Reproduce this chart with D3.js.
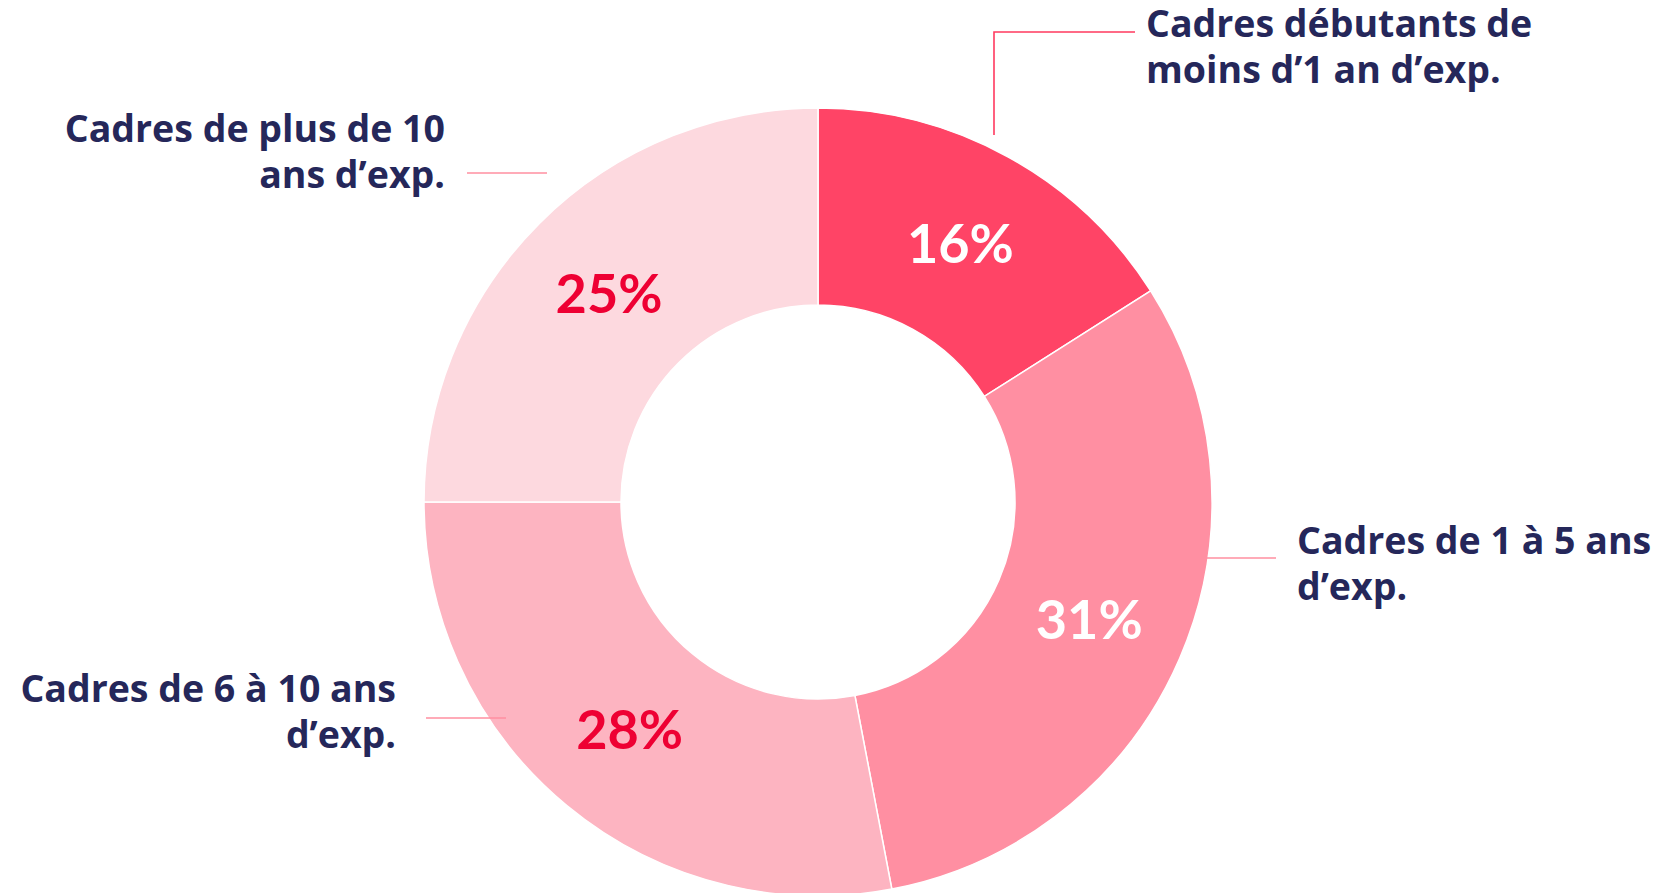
<!DOCTYPE html>
<html>
<head>
<meta charset="utf-8">
<script src="https://cdn.jsdelivr.net/npm/d3@7/dist/d3.min.js"></script>
<style>
  html, body { margin: 0; padding: 0; background: #ffffff; }
  svg { display: block; }
</style>
</head>
<body>
<svg id="chart" width="1677" height="893"></svg>
<script>
// ---- data ----
const categories = [
  ["Cadres débutants de", "moins d\u20191 an d\u2019exp."],
  ["Cadres de 1 à 5 ans", "d\u2019exp."],
  ["Cadres de 6 à 10 ans", "d\u2019exp."],
  ["Cadres de plus de 10", "ans d\u2019exp."]
];
const values = [16, 31, 28, 25];
const valueLabels = ["16%", "31%", "28%", "25%"];

// ---- styles / layout ----
const sliceColors = ["#FF4466", "#FF8FA2", "#FDB4C1", "#FDD9DF"];
const valueColors = ["#FFFFFF", "#FFFFFF", "#EE0033", "#EE0033"];
const leaderColors = ["#FF3A5F", "#FF8FA0", "#FF8FA0", "#FF8FA0"];
const navy = "#25275A";

const cx = 818, cy = 502, rOuter = 394, rInner = 197;

const svg = d3.select("#chart");
const g = svg.append("g").attr("transform", `translate(${cx},${cy})`);

const pie = d3.pie().sort(null).value(d => d);
const arcs = pie(values);
const arc = d3.arc().innerRadius(rInner).outerRadius(rOuter);

g.selectAll("path.slice")
  .data(arcs)
  .join("path")
  .attr("class", "slice")
  .attr("d", arc)
  .attr("fill", (d, i) => sliceColors[i])
  .attr("stroke", "#ffffff")
  .attr("stroke-width", 1.5);

g.selectAll("text.value")
  .data(arcs)
  .join("text")
  .attr("class", "value")
  .attr("transform", d => `translate(${arc.centroid(d)})`)
  .attr("text-anchor", "middle")
  .attr("dy", "0.36em")
  .attr("font-family", "Lato, 'DejaVu Sans', sans-serif")
  .attr("font-weight", 700)
  .attr("font-size", 54)
  .attr("fill", (d, i) => valueColors[i])
  .text((d, i) => valueLabels[i]);

// label layout (page coordinates)
const labelLayout = [
  { x: 1146, y: 37, anchor: "start", leader: [[1135, 32], [994, 32], [994, 135]] },
  { x: 1297, y: 554, anchor: "start", leader: [[1207, 558], [1276, 558]] },
  { x: 396, y: 702, anchor: "end", leader: [[426, 718], [506, 718]] },
  { x: 445, y: 142, anchor: "end", leader: [[467, 173], [547, 173]] }
];
const lineGap = 46;

const labels = svg.append("g");
const line = d3.line();
categories.forEach((lines, i) => {
  const L = labelLayout[i];
  labels.append("path")
    .attr("d", line(L.leader))
    .attr("fill", "none")
    .attr("stroke", leaderColors[i])
    .attr("stroke-width", 1.6);
  const t = labels.append("text")
    .attr("x", L.x)
    .attr("y", L.y)
    .attr("text-anchor", L.anchor)
    .attr("font-family", "'Open Sans', 'DejaVu Sans', sans-serif")
    .attr("font-weight", 700)
    .attr("font-size", 37.5)
    .attr("fill", navy);
  lines.forEach((s, k) => {
    t.append("tspan")
      .attr("x", L.x)
      .attr("dy", k === 0 ? 0 : lineGap)
      .text(s);
  });
});
</script>
</body>
</html>
